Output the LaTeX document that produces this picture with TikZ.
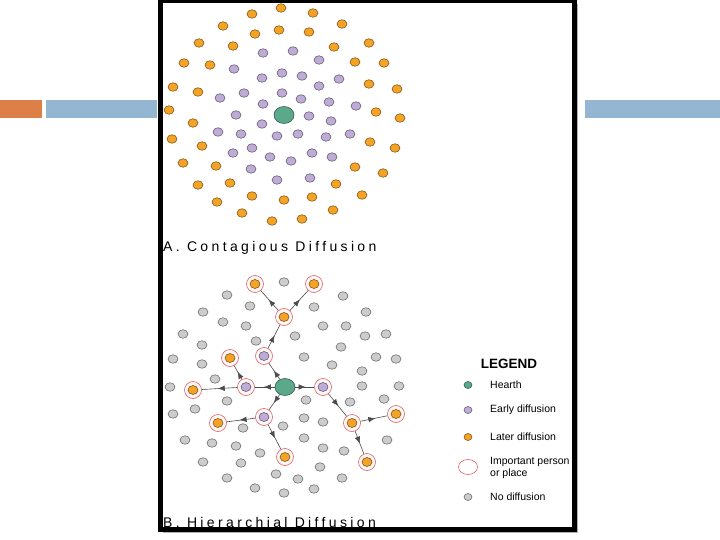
\documentclass[tikz,border=0pt]{standalone}
\usepackage{fontspec}
\setmainfont{Liberation Sans}
\newfontfamily\spacedfont[LetterSpace=24]{Liberation Sans}
\usetikzlibrary{shapes.geometric,decorations.markings,arrows.meta}

\definecolor{slideorange}{RGB}{221,128,71}
\definecolor{slideblue}{RGB}{148,182,210}
\definecolor{hearthgreen}{RGB}{92,168,138}
\definecolor{earlypurple}{RGB}{190,172,214}
\definecolor{laterorange}{RGB}{244,163,38}
\definecolor{nogrey}{RGB}{204,204,204}
\definecolor{ringred}{RGB}{222,96,96}

\begin{document}
\begin{tikzpicture}[
    x=1pt,
    y=-1pt,
    dot/.style={
        ellipse,
        draw=#1!50!black,
        fill=#1,
        line width=0.55pt,
        inner sep=0pt,
        minimum width=10pt,
        minimum height=8.5pt
    },
    later/.style={dot=laterorange},
    early/.style={dot=earlypurple},
    nodiff/.style={dot=nogrey},
    hearth/.style={
        dot=hearthgreen,
        minimum width=20pt,
        minimum height=17pt
    },
    imp/.style={
        circle,
        draw=ringred,
        fill=red!3,
        line width=0.6pt,
        inner sep=0pt,
        minimum size=17pt,
        path picture={
            \filldraw[fill=#1, draw=#1!50!black, line width=0.55pt]
                (path picture bounding box.center) ellipse (5pt and 4.5pt);
        }
    },
    flow/.style={
        draw=black!70,
        line width=0.6pt,
        postaction={decorate},
        decoration={markings,
            mark=at position 0.55 with {\arrow{Latex[length=7pt,width=5.5pt]}}}
    },
    keydot/.style={
        dot=#1,
        minimum width=8pt,
        minimum height=7pt
    },
    keytext/.style={
        anchor=west,
        align=left,
        inner sep=0pt,
        font=\fontsize{10.5}{11.5}\selectfont
    },
    caption/.style={
        anchor=west,
        inner sep=0pt,
        font=\spacedfont\fontsize{14}{16}\selectfont
    }
]
    \fill[white] (0,0) rectangle (720,540);
    \useasboundingbox (0,0) rectangle (720,540);

    % Slide bars
    \fill[slideorange] (0,100) rectangle (42,118);
    \fill[slideblue] (46,100) rectangle (157,118);
    \fill[slideblue] (585,100) rectangle (720,118);

    % Picture frame background
    \fill[black!30] (163,4) rectangle (578,533);
    \fill[white] (160.5,0.5) rectangle (574.5,529.5);

    % A. Contagious diffusion
    \foreach \x/\y [count=\i] in {281/8, 252/14, 313/13, 223/26, 342/24, 255/34,
        279/30, 309/32, 199/43, 233/46, 334/47, 369/43, 184/63, 210/65, 355/62,
        384/63, 173/87, 198/92, 369/84, 397/89, 169/110, 193/123, 376/112,
        400/118, 172/139, 202/146, 370/142, 395/148, 183/163, 216/166, 355/167,
        383/173, 198/185, 230/183, 336/184, 217/202, 252/196, 284/200, 312/197,
        362/195, 242/213, 272/221, 302/219, 333/210}
        \node[later] (a-l\i) at (\x,\y) {};
    \foreach \x/\y [count=\i] in {263/53, 293/51, 319/60, 234/69, 262/78, 282/73,
        302/76, 339/79, 319/86, 220/98, 244/93, 282/93, 301/99, 329/102, 356/106,
        263/104, 236/115, 309/116, 331/121, 262/124, 218/132, 241/134, 277/136,
        298/134, 326/137, 350/134, 233/153, 252/148, 270/157, 291/161, 312/153,
        332/157, 251/169, 277/180, 310/178}
        \node[early] (a-e\i) at (\x,\y) {};
    \node[hearth] (a-h) at (284,115) {};
    \node[caption] (a-cap) at (163,248) {A. Contagious Diffusion};

    % B. Hierarchial diffusion
    \foreach \x/\y [count=\i] in {284/282, 227/295, 343/296, 250/306, 314/307,
        203/312, 366/312, 223/322, 246/326, 323/326, 346/326, 183/334, 295/336,
        365/336, 386/334, 256/341, 202/345, 341/347, 304/357, 376/357, 396/359,
        173/359, 202/364, 332/365, 362/371, 215/379, 170/387, 362/386, 399/386,
        227/401, 306/400, 350/402, 384/399, 195/409, 173/414, 304/418, 323/422,
        243/428, 283/426, 185/440, 212/443, 236/446, 304/438, 387/440, 260/453,
        323/448, 344/451, 203/462, 241/463, 320/467, 276/474, 227/478, 298/479,
        342/478, 255/488, 284/493, 314/489}
        \node[nodiff] (b-n\i) at (\x,\y) {};
    \node[hearth] (b-h) at (285,387) {};
    \node[imp=earlypurple] (b-e1) at (264,356) {};
    \node[imp=earlypurple] (b-e2) at (246,387) {};
    \node[imp=earlypurple] (b-e3) at (323,387) {};
    \node[imp=earlypurple] (b-e4) at (264,417) {};
    \node[imp=laterorange] (b-l1) at (284,317) {};
    \node[imp=laterorange] (b-l2) at (255,284) {};
    \node[imp=laterorange] (b-l3) at (314,284) {};
    \node[imp=laterorange] (b-l4) at (230,358) {};
    \node[imp=laterorange] (b-l5) at (193,390) {};
    \node[imp=laterorange] (b-l6) at (218,423) {};
    \node[imp=laterorange] (b-l7) at (285,457) {};
    \node[imp=laterorange] (b-l8) at (352,423) {};
    \node[imp=laterorange] (b-l9) at (396,414) {};
    \node[imp=laterorange] (b-l10) at (367,462) {};

    % Spread from the hearth
    \foreach \a/\b in {b-h/b-e1, b-h/b-e2, b-h/b-e3, b-h/b-e4, b-e1/b-l1,
        b-l1/b-l2, b-l1/b-l3, b-e2/b-l4, b-e2/b-l5, b-e4/b-l6, b-e4/b-l7,
        b-e3/b-l8, b-l8/b-l9, b-l8/b-l10}
        \draw[flow] (\a) -- (\b);
    \node[caption] (b-cap) at (163,522) {B. Hierarchial Diffusion};

    % Legend
    \node[font=\bfseries\fontsize{13.5}{16}\selectfont] (legend) at (509,364) {LEGEND};
    \node[keydot=hearthgreen] (k-h) at (468,385) {};
    \node[keytext] (t-h) at (490,385) {Hearth};
    \node[keydot=earlypurple] (k-e) at (468,410) {};
    \node[keytext] (t-e) at (490,410) {Early diffusion};
    \node[keydot=laterorange] (k-l) at (468,437) {};
    \node[keytext] (t-l) at (490,437) {Later diffusion};
    \node[ellipse, draw=ringred, line width=0.6pt, minimum width=19pt,
        minimum height=15pt] (k-i) at (468,467) {};
    \node[keytext] (t-i) at (490,468) {Important person\\or place};
    \node[keydot=nogrey] (k-n) at (468,497) {};
    \node[keytext] (t-n) at (490,497) {No diffusion};

    % Frame
    \draw[line width=4.5pt] (160.5,0.5) rectangle (574.5,529.5);
\end{tikzpicture}
\end{document}
